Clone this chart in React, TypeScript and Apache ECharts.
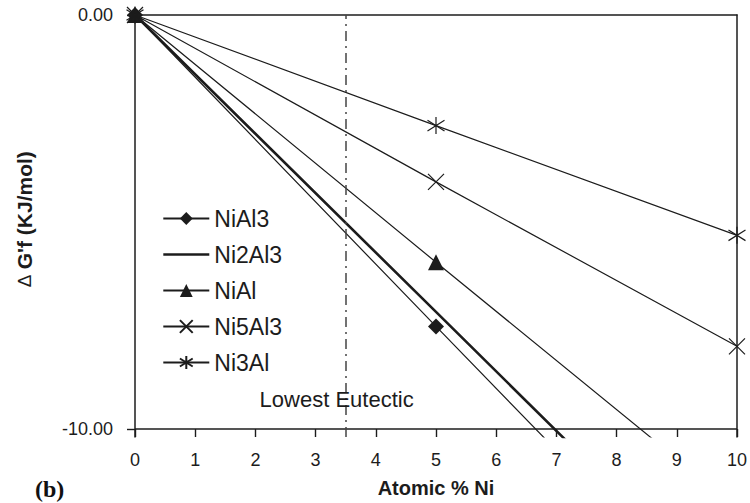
import React, { useEffect, useRef } from "react";
import * as echarts from "echarts";

const xValues = [0, 5, 10];
const niAl3 = [0, -7.52, -15.0];
const ni2Al3 = [0, -7.17, -14.35];
const niAl = [0, -5.97, -11.9];
const ni5Al3 = [0, -4.03, -8.0];
const ni3Al = [0, -2.67, -5.32];
const seriesNames = ["NiAl3", "Ni2Al3", "NiAl", "Ni5Al3", "Ni3Al"];
const xTicks = [0, 1, 2, 3, 4, 5, 6, 7, 8, 9, 10];
const yTicks = [-10, 0];
const eutecticX = 3.5;
const eutecticLabel = "Lowest Eutectic";
const eutecticLabelPos = [2.07, -9.29];

const FONT = "'Liberation Sans', Arial, Helvetica, sans-serif";
const INK = "#1c1c1c";

const X_SYMBOL = "path://M0,0L16,16M16,0L0,16";
const STAR_SYMBOL = "path://M8,0L8,16M0,3L16,13M16,3L0,13";

function pts(vals: number[]) {
  return xValues.map((x, i) => [x, vals[i]]);
}

export default function App() {
  const ref = useRef<HTMLDivElement>(null);
  useEffect(() => {
    if (!ref.current) return;
    const chart = echarts.init(ref.current, null, { renderer: "svg" });
    const thin = { color: INK, width: 1.2 };
    const strokeSym = { color: "rgba(0,0,0,0)", borderColor: INK, borderWidth: 1.2 };
    chart.setOption({
      animation: false,
      backgroundColor: "#fff",
      grid: { left: 135, right: 10, top: 15, bottom: 66, containLabel: false },
      legend: {
        orient: "vertical",
        left: 157,
        top: 202,
        itemWidth: 46,
        itemHeight: 16,
        itemGap: 13,
        data: seriesNames.map((n) =>
          n === "Ni2Al3"
            ? { name: n, itemStyle: { opacity: 0 }, lineStyle: { width: 2.6, color: INK } }
            : { name: n }
        ),
        textStyle: { fontFamily: FONT, fontSize: 23, color: INK },
      },
      xAxis: [
        {
          type: "value",
          min: 0,
          max: 10,
          interval: 1,
          position: "bottom",
          axisLine: { show: false, onZero: false },
          axisTick: { show: true, inside: true, length: 8, lineStyle: { color: INK, width: 1.4 } },
          axisLabel: {
            margin: 14,
            fontFamily: FONT,
            fontSize: 18,
            color: INK,
            formatter: (v: number) => (xTicks.includes(v) ? String(v) : ""),
          },
          splitLine: { show: false },
          name: "Atomic % Ni",
          nameLocation: "middle",
          nameGap: 41,
          nameTextStyle: { fontFamily: FONT, fontSize: 20, fontWeight: "bold", color: INK },
        },
        {
          type: "value",
          min: 0,
          max: 10,
          position: "top",
          axisLine: { show: true, onZero: false, lineStyle: { color: INK, width: 1.5 } },
          axisTick: { show: false },
          axisLabel: { show: false },
          splitLine: { show: false },
        },
      ],
      yAxis: [
        {
          type: "value",
          min: -10.19,
          max: 0,
          position: "left",
          axisLine: { show: true, onZero: false, lineStyle: { color: INK, width: 1.5 } },
          axisTick: { show: true, length: 8, customValues: yTicks, lineStyle: { color: INK, width: 1.4 } },
          axisLabel: {
            margin: 22,
            customValues: yTicks,
            fontFamily: FONT,
            fontSize: 18,
            color: INK,
            formatter: (v: number) => v.toFixed(2),
          },
          splitLine: { show: false },
        },
        {
          type: "value",
          min: -10.19,
          max: 0,
          position: "right",
          axisLine: { show: true, onZero: false, lineStyle: { color: INK, width: 1.5 } },
          axisTick: { show: false },
          axisLabel: { show: false },
          splitLine: { show: false },
        },
      ],
      graphic: [
        {
          type: "text",
          x: 24,
          y: 219,
          rotation: Math.PI / 2,
          style: {
            text: "{d|\u2206} G'f (KJ/mol)",
            align: "center",
            verticalAlign: "middle",
            fontFamily: FONT,
            fontSize: 21,
            fontWeight: "bold",
            fill: INK,
            rich: { d: { fontFamily: FONT, fontSize: 19, fontWeight: "normal", fill: INK } },
          },
        },
        {
          type: "text",
          x: 35,
          y: 489,
          style: {
            text: "(b)",
            align: "left",
            verticalAlign: "middle",
            fontFamily: "'Liberation Serif', 'Times New Roman', serif",
            fontSize: 24,
            fontWeight: "bold",
            fill: "#111",
          },
        },
      ],
      series: [
        {
          name: "NiAl3",
          type: "line",
          data: pts(niAl3),
          symbol: "diamond",
          symbolSize: 16,
          lineStyle: thin,
          itemStyle: { color: INK },
          z: 3,
        },
        {
          name: "Ni2Al3",
          type: "line",
          data: pts(ni2Al3),
          symbol: "none",
          showSymbol: false,
          lineStyle: { color: INK, width: 2.6 },
          itemStyle: { color: INK },
          z: 2,
          markLine: {
            silent: true,
            symbol: ["none", "none"],
            label: { show: false },
            data: [
              { yAxis: -10, lineStyle: { color: INK, width: 1.5, type: "solid" } },
              { xAxis: eutecticX, lineStyle: { color: "#444", width: 1.5, type: [10, 5, 2, 5] } },
            ],
          },
          markPoint: {
            silent: true,
            symbol: "circle",
            symbolSize: 0,
            data: [
              {
                coord: eutecticLabelPos,
                label: {
                  show: true,
                  position: "right",
                  distance: 0,
                  formatter: eutecticLabel,
                  fontFamily: FONT,
                  fontSize: 22,
                  color: INK,
                },
              },
            ],
          },
        },
        {
          name: "NiAl",
          type: "line",
          data: pts(niAl),
          symbol: "triangle",
          symbolSize: 16,
          lineStyle: thin,
          itemStyle: { color: INK },
          z: 3,
        },
        {
          name: "Ni5Al3",
          type: "line",
          data: pts(ni5Al3),
          symbol: X_SYMBOL,
          symbolSize: 16,
          lineStyle: thin,
          itemStyle: strokeSym,
          z: 3,
        },
        {
          name: "Ni3Al",
          type: "line",
          data: pts(ni3Al),
          symbol: STAR_SYMBOL,
          symbolSize: 17,
          lineStyle: thin,
          itemStyle: strokeSym,
          z: 3,
        },
      ],
    });
    return () => chart.dispose();
  }, []);
  return <div ref={ref} style={{ width: 750, height: 503, position: "absolute", left: 0, top: 0 }} />;
}
